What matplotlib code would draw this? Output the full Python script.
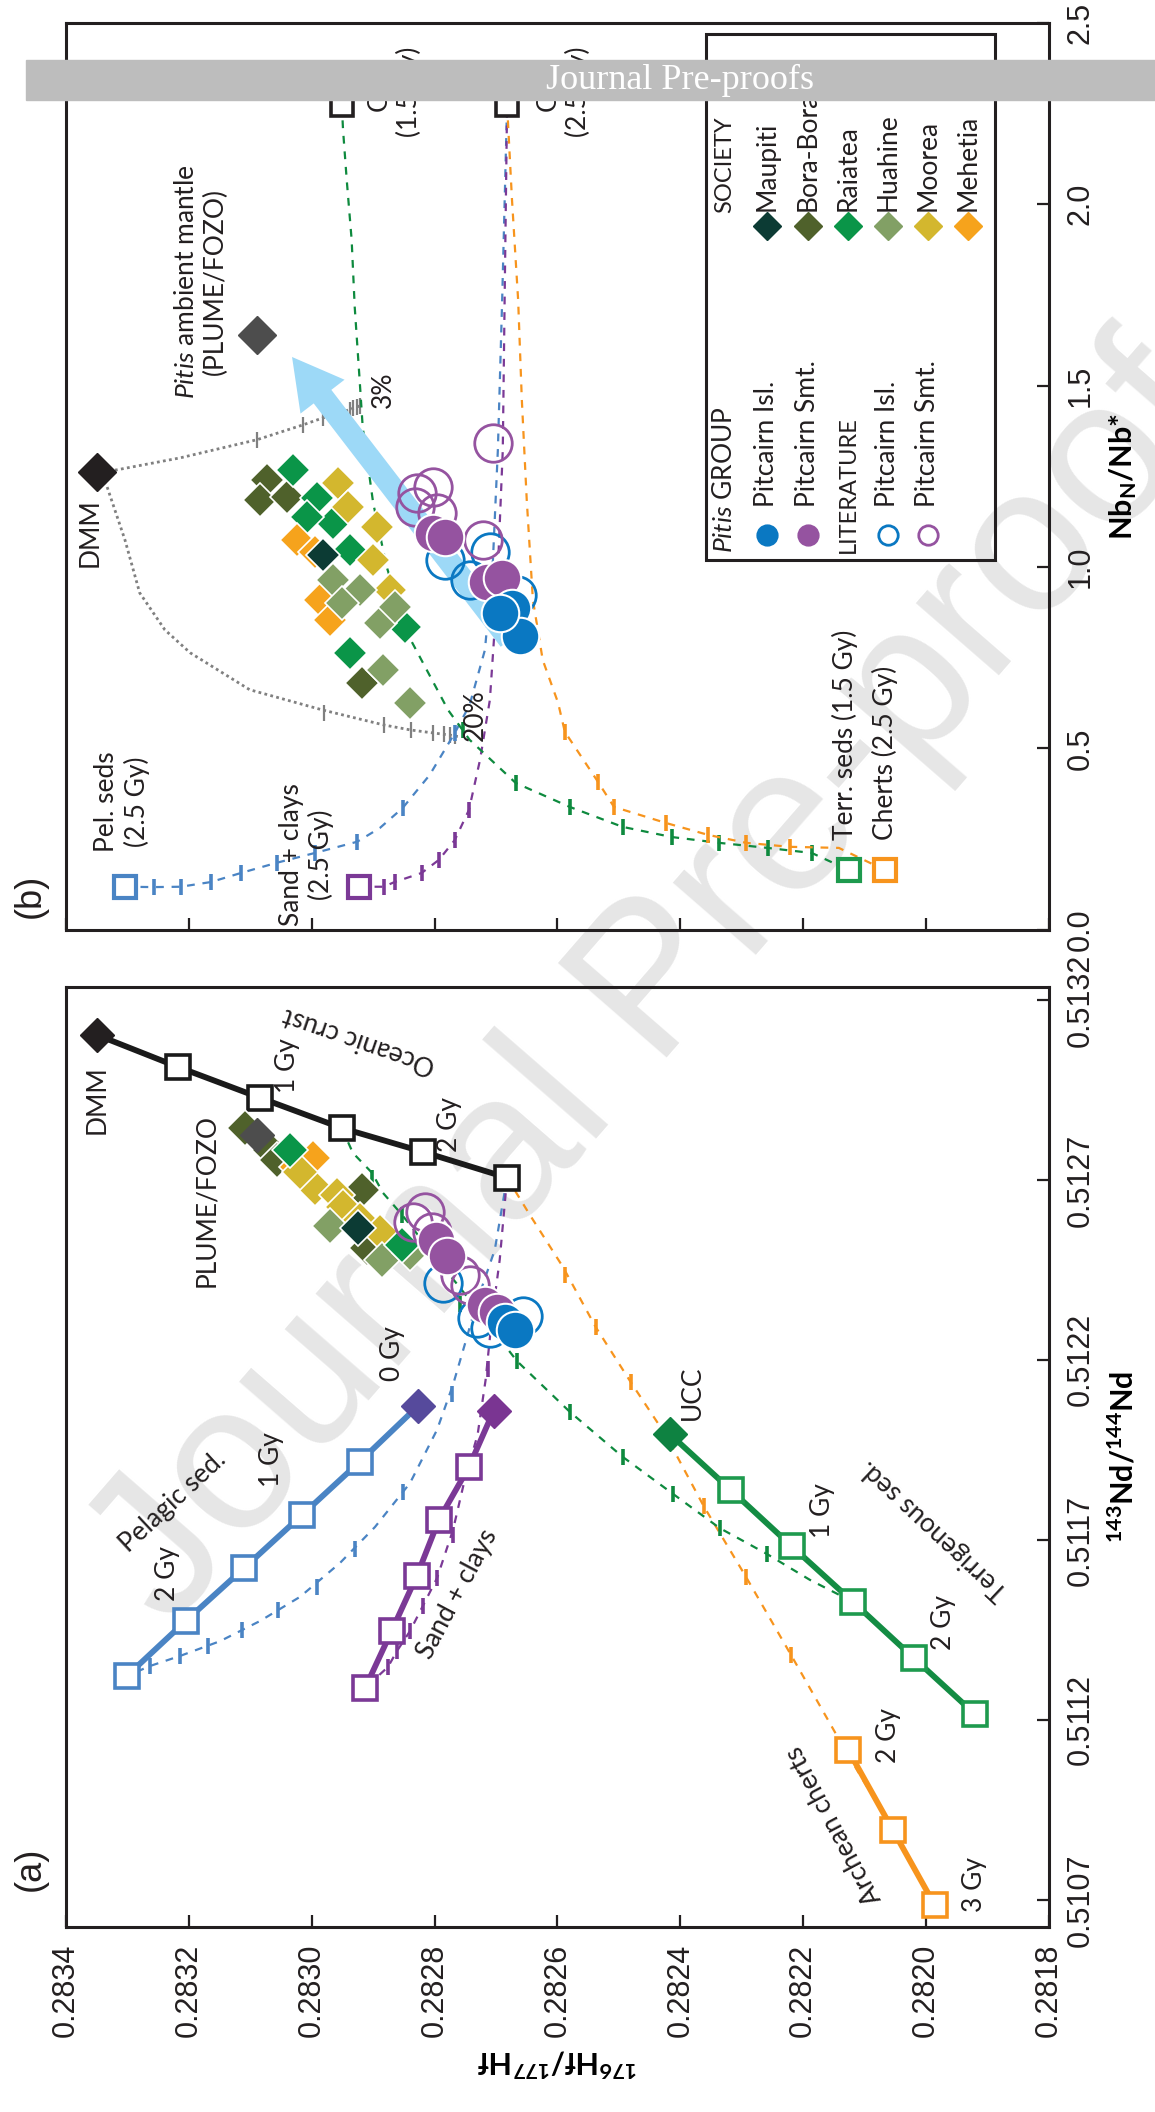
import matplotlib
matplotlib.use("Agg")
import matplotlib.pyplot as plt
from matplotlib.patches import Rectangle

plt.rcParams['font.family'] = ['Lato', 'DejaVu Sans']
plt.rcParams['mathtext.fontset'] = 'custom'
plt.rcParams['mathtext.rm'] = 'Lato'
plt.rcParams['mathtext.it'] = 'Lato:italic'
plt.rcParams['mathtext.bf'] = 'Lato:bold'

INK = '#231F20'

# axis ticks
hf_ticks = [0.2834, 0.2832, 0.2830, 0.2828, 0.2826, 0.2824, 0.2822, 0.2820, 0.2818]
nd_ticks = [0.5107, 0.5112, 0.5117, 0.5122, 0.5127, 0.5132]
nb_ticks = [0.0, 0.5, 1.0, 1.5, 2.0, 2.5]

# ---------------- panel (a): 176Hf/177Hf vs 143Nd/144Nd ----------------
# evolution paths, squares every 0.5 Gy (oldest first), present-day end-member apart
pel_hf = [0.283301, 0.283205, 0.283110, 0.283016, 0.282922]
pel_nd = [0.511322, 0.511475, 0.511622, 0.511769, 0.511917]
pel0_hf, pel0_nd = 0.282827, 0.512072

sand_hf = [0.282913, 0.282870, 0.282829, 0.282793, 0.282744]
sand_nd = [0.511289, 0.511447, 0.511600, 0.511756, 0.511903]
sand0_hf, sand0_nd = 0.282704, 0.512058

ucc_hf, ucc_nd = 0.282417, 0.511994
terr_hf = [0.282318, 0.282219, 0.282119, 0.282020, 0.281921]
terr_nd = [0.511839, 0.511683, 0.511528, 0.511372, 0.511217]

chert_hf = [0.282127, 0.282054, 0.281986]
chert_nd = [0.511117, 0.510894, 0.510686]

dmm_a_hf, dmm_a_nd = 0.283350, 0.513103
oc_hf = [0.283218, 0.283084, 0.282951, 0.282819, 0.282682]
oc_nd = [0.513014, 0.512928, 0.512844, 0.512778, 0.512706]
plume_a_hf, plume_a_nd = 0.283089, 0.512825

# mixing curves (a)
mix_blue_a_hf = [0.282682, 0.282702, 0.282730, 0.282751, 0.282770, 0.282796, 0.282840, 0.282897,
                 0.282954, 0.283019, 0.283084, 0.283149, 0.283214, 0.283263, 0.283301]
mix_blue_a_nd = [0.512706, 0.512506, 0.512367, 0.512242, 0.512131, 0.512006, 0.511858, 0.511736,
                 0.511636, 0.511542, 0.511475, 0.511419, 0.511378, 0.511350, 0.511322]
tick_blue_a_hf = [0.282772, 0.282852, 0.282930, 0.282992, 0.283055, 0.283114, 0.283169, 0.283214, 0.283263]
tick_blue_a_nd = [0.512106, 0.511833, 0.511675, 0.511570, 0.511506, 0.511450, 0.511406, 0.511378, 0.511350]

mix_purple_a_hf = [0.282682, 0.282694, 0.282707, 0.282717, 0.282730, 0.282751, 0.282770, 0.282796,
                   0.282819, 0.282840, 0.282861, 0.282876, 0.282913]
mix_purple_a_nd = [0.512706, 0.512478, 0.512311, 0.512144, 0.511992, 0.511867, 0.511728, 0.511594,
                   0.511517, 0.511447, 0.511392, 0.511347, 0.511289]
tick_purple_a_hf = [0.282713, 0.282770, 0.282796, 0.282819, 0.282840, 0.282861, 0.282876]
tick_purple_a_nd = [0.512175, 0.511714, 0.511594, 0.511517, 0.511447, 0.511392, 0.511347]

mix_orange_a_hf = [0.282682, 0.282645, 0.282591, 0.282538, 0.282481, 0.282424, 0.282362, 0.282293,
                   0.282220, 0.282132, 0.282054]
mix_orange_a_nd = [0.512706, 0.512603, 0.512458, 0.512292, 0.512139, 0.511992, 0.511794, 0.511597,
                   0.511381, 0.511117, 0.510894]
tick_orange_a_hf = [0.282588, 0.282538, 0.282481, 0.282424, 0.282362, 0.282293, 0.282220]
tick_orange_a_nd = [0.512436, 0.512292, 0.512139, 0.511983, 0.511794, 0.511597, 0.511381]

mix_green_a_hf = [0.282951, 0.282933, 0.282902, 0.282884, 0.282853, 0.282808, 0.282743, 0.282666,
                  0.282580, 0.282494, 0.282412, 0.282336, 0.282259, 0.282189, 0.282119]
mix_green_a_nd = [0.512844, 0.512775, 0.512720, 0.512664, 0.512603, 0.512506, 0.512367, 0.512197,
                  0.512056, 0.511931, 0.511828, 0.511733, 0.511661, 0.511589, 0.511528]
tick_green_a_hf = [0.282902, 0.282853, 0.282759, 0.282666, 0.282580, 0.282494, 0.282412, 0.282336, 0.282259]
tick_green_a_nd = [0.512706, 0.512603, 0.512356, 0.512197, 0.512056, 0.511931, 0.511828, 0.511733, 0.511661]

# Society islands (a)
maupiti_a = [(0.282925, 0.512567)]
bora_a = [(0.283109, 0.512844), (0.283068, 0.512783), (0.283057, 0.512756), (0.282918, 0.512672),
          (0.282910, 0.512511)]
raiatea_a = [(0.282853, 0.512519), (0.283035, 0.512783)]
huahine_a = [(0.282970, 0.512572), (0.282886, 0.512478), (0.282840, 0.512497)]
moorea_a = [(0.282995, 0.512678), (0.282959, 0.512658), (0.282949, 0.512625), (0.282922, 0.512589),
            (0.282889, 0.512556), (0.283019, 0.512722)]
mehetia_a = [(0.283024, 0.512736), (0.282998, 0.512761)]

# Pitcairn (a)
pit_isl_a = [(0.282686, 0.512306), (0.282669, 0.512283)]
pit_smt_a = [(0.282798, 0.512533), (0.282780, 0.512489), (0.282718, 0.512353), (0.282699, 0.512333)]
lit_isl_a = [(0.282787, 0.512414), (0.282731, 0.512317), (0.282656, 0.512322), (0.282710, 0.512289)]
lit_smt_a = [(0.282835, 0.512583), (0.282816, 0.512611), (0.282804, 0.512556), (0.282759, 0.512436),
             (0.282743, 0.512408)]

# ---------------- panel (b): 176Hf/177Hf vs Nb_N/Nb* ----------------
dmm_b = (0.283350, 1.262)
plume_b = (0.283089, 1.640)
oc_b_hf = [0.282951, 0.282682]
oc_b_nb = [2.274, 2.274]
pel_b = (0.283304, 0.119)
sand_b = (0.282923, 0.119)
terr_b = (0.282126, 0.165)
chert_b = (0.282067, 0.165)

mix_blue_b_hf = [0.283304, 0.283257, 0.283213, 0.283164, 0.283115, 0.283057, 0.282995, 0.282926, 0.282889,
                 0.282852, 0.282808, 0.282767, 0.282743, 0.282718, 0.282705, 0.282697, 0.282690, 0.282682]
mix_blue_b_nb = [0.119, 0.118, 0.119, 0.132, 0.157, 0.185, 0.212, 0.243, 0.281,
                 0.336, 0.427, 0.543, 0.620, 0.772, 1.020, 1.323, 1.736, 2.274]
tick_blue_b_hf = [0.283257, 0.283213, 0.283164, 0.283115, 0.283057, 0.282995, 0.282926, 0.282852, 0.282767]
tick_blue_b_nb = [0.118, 0.119, 0.132, 0.157, 0.185, 0.212, 0.243, 0.336, 0.543]

mix_purple_b_hf = [0.282923, 0.282883, 0.282865, 0.282821, 0.282793, 0.282767, 0.282744, 0.282726,
                   0.282710, 0.282699, 0.282689, 0.282686, 0.282682]
mix_purple_b_nb = [0.119, 0.119, 0.132, 0.157, 0.193, 0.248, 0.331, 0.469, 0.634, 0.910, 1.323, 1.736, 2.274]
tick_purple_b_hf = [0.282883, 0.282865, 0.282821, 0.282793, 0.282767, 0.282744]
tick_purple_b_nb = [0.119, 0.132, 0.157, 0.193, 0.248, 0.331]

mix_green_b_hf = [0.282951, 0.282949, 0.282943, 0.282935, 0.282930, 0.282922, 0.282917, 0.282900, 0.282878,
                  0.282845, 0.282778, 0.282743, 0.282668, 0.282580, 0.282494, 0.282414, 0.282337, 0.282258,
                  0.282186, 0.282126]
mix_green_b_nb = [2.274, 2.205, 2.067, 1.902, 1.717, 1.516, 1.386, 1.177, 1.001,
                  0.819, 0.606, 0.524, 0.405, 0.339, 0.284, 0.256, 0.240, 0.226, 0.212, 0.165]
tick_green_b_hf = [0.282754, 0.282668, 0.282580, 0.282494, 0.282414, 0.282337, 0.282258, 0.282186]
tick_green_b_nb = [0.551, 0.405, 0.339, 0.284, 0.256, 0.240, 0.226, 0.212]

mix_orange_b_hf = [0.282682, 0.282674, 0.282664, 0.282658, 0.282650, 0.282640, 0.282624, 0.282599, 0.282588,
                   0.282534, 0.282508, 0.282466, 0.282424, 0.282355, 0.282293, 0.282222, 0.282142, 0.282067]
mix_orange_b_nb = [2.274, 2.012, 1.736, 1.461, 1.185, 0.910, 0.744, 0.626, 0.546,
                   0.408, 0.339, 0.317, 0.295, 0.262, 0.240, 0.229, 0.226, 0.165]
tick_orange_b_hf = [0.282588, 0.282534, 0.282508, 0.282424, 0.282355, 0.282293, 0.282222]
tick_orange_b_nb = [0.546, 0.408, 0.339, 0.295, 0.262, 0.240, 0.229]

# DMM melting curves (grey dotted)
melt_a_hf = [0.283350, 0.283317, 0.283214, 0.283089, 0.283014, 0.282982, 0.282954, 0.282925, 0.282922]
melt_a_nb = [1.262, 1.268, 1.301, 1.351, 1.392, 1.411, 1.425, 1.442, 1.444]
melt_b_hf = [0.283350, 0.283333, 0.283304, 0.283280, 0.283239, 0.283198, 0.283101, 0.282982, 0.282883,
             0.282839, 0.282803, 0.282775, 0.282759]
melt_b_nb = [1.262, 1.221, 1.075, 0.929, 0.827, 0.764, 0.662, 0.606, 0.565, 0.551, 0.543, 0.537, 0.532]
tick_melt_a_hf = [0.283089, 0.283014, 0.282982, 0.282938, 0.282933, 0.282926, 0.282922]
tick_melt_a_nb = [1.351, 1.392, 1.411, 1.433, 1.439, 1.442, 1.444]
tick_melt_b_hf = [0.282980, 0.282883, 0.282839, 0.282803, 0.282785, 0.282775, 0.282767]
tick_melt_b_nb = [0.598, 0.565, 0.551, 0.543, 0.540, 0.537, 0.535]

# Society islands (b)
maupiti_b = [(0.282982, 1.034)]
bora_b = [(0.283073, 1.240), (0.283084, 1.185), (0.283040, 1.193), (0.282918, 0.681)]
raiatea_b = [(0.283031, 1.268), (0.282992, 1.191), (0.282966, 1.122), (0.282938, 1.047),
             (0.282938, 0.764), (0.282848, 0.835), (0.283008, 1.138)]
huahine_b = [(0.282966, 0.965), (0.282922, 0.937), (0.282951, 0.901), (0.282889, 0.846),
             (0.282865, 0.890), (0.282884, 0.717), (0.282840, 0.626)]
moorea_b = [(0.282957, 1.232), (0.282941, 1.166), (0.282894, 1.111), (0.282900, 1.020), (0.282873, 0.937)]
mehetia_b = [(0.283024, 1.075), (0.282995, 1.042), (0.282987, 0.910), (0.282970, 0.854)]

# Pitcairn (b)
pit_isl_b = [(0.282674, 0.888), (0.282661, 0.810), (0.282694, 0.874)]
pit_smt_b = [(0.282803, 1.094), (0.282783, 1.083), (0.282715, 0.959), (0.282690, 0.970)]
lit_isl_b = [(0.282783, 1.020), (0.282743, 0.965), (0.282710, 1.042), (0.282666, 0.923)]
lit_smt_b = [(0.282705, 1.342), (0.282829, 1.205), (0.282803, 1.221), (0.282832, 1.166),
             (0.282796, 1.149), (0.282721, 1.075)]

# arrow (tail -> head)
arrow_tail = (0.282678, 0.799)
arrow_head = (0.283032, 1.579)

# colours
C_PEL, C_PEL0 = '#4A84C4', '#564A9C'
C_SAND, C_SAND0 = '#7B3996', '#7A3592'
C_TERR, C_UCC, C_TERR_SQ = '#138C43', '#0E8241', '#1E9A4E'
C_CHERT = '#F7941D'
C_MIXG = '#0E8A3E'
C_GREY = '#808080'
island_cols = {'Maupiti': '#0C3B34', 'Bora-Bora': '#4F612B', 'Raiatea': '#0A9548',
               'Huahine': '#82A065', 'Moorea': '#D3B72E', 'Mehetia': '#F6A31C'}
C_ISL, C_SMT = '#0A78C2', '#9553A0'
C_ARROW = '#9DD9F7'

fig = plt.figure(figsize=(11.55, 21.12), dpi=100)
ax_b = fig.add_axes([0.0571, 0.5597, 0.8511, 0.4295])
ax_a = fig.add_axes([0.0571, 0.0876, 0.8511, 0.4451])


def style(ax):
    ax.set_facecolor('none')
    for s in ax.spines.values():
        s.set_linewidth(2.2)
        s.set_color(INK)
    ax.tick_params(direction='in', length=9, width=1.6, color=INK, labelsize=22, pad=12,
                   labelcolor=INK)
    ax.set_xlim(0.2834, 0.2818)
    ax.set_xticks(hf_ticks)
    ax.yaxis.tick_right()
    ax.yaxis.set_label_position('right')


def mix(ax, xs, ys, tx, ty, col, lw=1.6):
    ax.plot(xs, ys, ls=(0, (3.5, 3.5)), color=col, lw=lw, zorder=2)
    ax.plot(tx, ty, ls='none', marker='|', ms=12, mew=2.6, color=col, zorder=2)


def path(ax, xs, ys, end, col, endcol, sqcol=None, ms=17):
    sqcol = sqcol or col
    ax.plot(xs + [end[0]], ys + [end[1]], '-', color=col, lw=4.2, zorder=3)
    ax.plot(xs, ys, ls='none', marker='s', ms=ms, mfc='white', mec=sqcol, mew=2.6, zorder=4)
    ax.plot([end[0]], [end[1]], ls='none', marker='D', ms=17, mfc=endcol, mec=endcol, zorder=5)


def islands(ax, groups, ms=16):
    for name, pts in groups:
        ax.plot([p[0] for p in pts], [p[1] for p in pts], ls='none', marker='D', ms=ms,
                mfc=island_cols[name], mec='white', mew=1.2, zorder=6)


def pitcairn(ax, isl, smt, lisl, lsmt, ms=27):
    for pts, col in ((lisl, C_ISL), (lsmt, C_SMT)):
        ax.plot([p[0] for p in pts], [p[1] for p in pts], ls='none', marker='o', ms=ms,
                mfc='none', mec=col, mew=2.0, zorder=7)
    for pts, col in ((smt, C_SMT), (isl, C_ISL)):
        ax.plot([p[0] for p in pts], [p[1] for p in pts], ls='none', marker='o', ms=ms,
                mfc=col, mec='white', mew=1.5, zorder=8)


def label(ax, x, y, s, rot=90, size=19, **kw):
    kw.setdefault('ha', 'center')
    kw.setdefault('va', 'center')
    ax.text(x, y, s, rotation=rot, fontsize=size, color=INK, zorder=9, **kw)


# ---------------- draw panel (a) ----------------
style(ax_a)
ax_a.set_ylim(0.510625, 0.513236)
ax_a.set_xticklabels([f'{v:.4f}' for v in hf_ticks], rotation=90, family='Liberation Sans')
ax_a.set_yticks(nd_ticks)
ax_a.set_yticklabels([f'{v:.4f}' for v in nd_ticks], rotation=90, va='center',
                     family='Liberation Sans')
ax_a.set_xlabel(r'$\mathbf{{}^{176}Hf/{}^{177}Hf}$', fontsize=22, rotation=180, labelpad=6)
ax_a.set_ylabel(r'$\mathbf{{}^{143}Nd/{}^{144}Nd}$', fontsize=22, rotation=90, labelpad=8)

mix(ax_a, mix_blue_a_hf, mix_blue_a_nd, tick_blue_a_hf, tick_blue_a_nd, C_PEL)
mix(ax_a, mix_purple_a_hf, mix_purple_a_nd, tick_purple_a_hf, tick_purple_a_nd, C_SAND)
mix(ax_a, mix_orange_a_hf, mix_orange_a_nd, tick_orange_a_hf, tick_orange_a_nd, C_CHERT)
mix(ax_a, mix_green_a_hf, mix_green_a_nd, tick_green_a_hf, tick_green_a_nd, C_MIXG)

path(ax_a, pel_hf, pel_nd, (pel0_hf, pel0_nd), C_PEL, C_PEL0)
path(ax_a, sand_hf, sand_nd, (sand0_hf, sand0_nd), C_SAND, C_SAND0)
path(ax_a, terr_hf[::-1], terr_nd[::-1], (ucc_hf, ucc_nd), C_TERR, C_UCC, C_TERR_SQ)
ax_a.plot(chert_hf, chert_nd, '-', color=C_CHERT, lw=4.2, zorder=3)
ax_a.plot(chert_hf, chert_nd, ls='none', marker='s', ms=17, mfc='white', mec=C_CHERT, mew=2.6, zorder=4)
path(ax_a, oc_hf[::-1], oc_nd[::-1], (dmm_a_hf, dmm_a_nd), '#1A1A1A', INK)
ax_a.plot([plume_a_hf], [plume_a_nd], ls='none', marker='D', ms=17, color='#4D4D4D', zorder=6.5)

islands(ax_a, [('Bora-Bora', bora_a), ('Mehetia', mehetia_a), ('Moorea', moorea_a),
               ('Huahine', huahine_a), ('Raiatea', raiatea_a), ('Maupiti', maupiti_a)], ms=18)
pitcairn(ax_a, pit_isl_a, pit_smt_a, lit_isl_a, lit_smt_a)

label(ax_a, 0.283226, 0.511806, 'Pelagic sed.', rot=43)
label(ax_a, 0.283234, 0.511608, '2 Gy')
label(ax_a, 0.283065, 0.511922, '1 Gy')
label(ax_a, 0.282868, 0.512219, '0 Gy')
label(ax_a, 0.282762, 0.511550, 'Sand + clays', rot=62)
label(ax_a, 0.282380, 0.512108, 'UCC')
label(ax_a, 0.282168, 0.511783, '1 Gy')
label(ax_a, 0.281971, 0.511472, '2 Gy')
label(ax_a, 0.281986, 0.511728, 'Terrigenous sed.', rot=137)
label(ax_a, 0.282062, 0.511158, '2 Gy')
label(ax_a, 0.281921, 0.510742, '3 Gy')
label(ax_a, 0.282149, 0.510908, 'Archean cherts', rot=118)
label(ax_a, 0.283350, 0.512922, 'DMM')
label(ax_a, 0.283040, 0.513019, '1 Gy')
label(ax_a, 0.282775, 0.512853, '2 Gy')
label(ax_a, 0.282922, 0.513089, 'Oceanic crust', rot=161)
label(ax_a, 0.283171, 0.512644, 'PLUME/FOZO')

# ---------------- draw panel (b) ----------------
style(ax_b)
ax_b.set_ylim(0, 2.5)
ax_b.set_xticklabels([])
ax_b.set_yticks(nb_ticks)
ax_b.set_yticklabels([f'{v:.1f}' for v in nb_ticks], rotation=90, va='center',
                     family='Liberation Sans')
ax_b.set_ylabel(r'$\mathbf{Nb_N/Nb}$*', fontsize=22, fontweight='bold', rotation=90, labelpad=8)

ax_b.plot(melt_a_hf, melt_a_nb, ls=(0, (1, 1.2)), color=C_GREY, lw=2, zorder=2)
ax_b.plot(melt_b_hf, melt_b_nb, ls=(0, (1, 1.2)), color=C_GREY, lw=2, zorder=2)
ax_b.plot(tick_melt_a_hf, tick_melt_a_nb, ls='none', marker='|', ms=12, mew=1.6, color=C_GREY, zorder=2)
ax_b.plot(tick_melt_b_hf, tick_melt_b_nb, ls='none', marker='|', ms=12, mew=1.6, color=C_GREY, zorder=2)

mix(ax_b, mix_blue_b_hf, mix_blue_b_nb, tick_blue_b_hf, tick_blue_b_nb, C_PEL)
mix(ax_b, mix_purple_b_hf, mix_purple_b_nb, tick_purple_b_hf, tick_purple_b_nb, C_SAND)
mix(ax_b, mix_green_b_hf, mix_green_b_nb, tick_green_b_hf, tick_green_b_nb, C_MIXG)
mix(ax_b, mix_orange_b_hf, mix_orange_b_nb, tick_orange_b_hf, tick_orange_b_nb, C_CHERT)

ax_b.annotate('', xy=arrow_head, xytext=arrow_tail, zorder=3,
              arrowprops=dict(arrowstyle='simple,head_width=2.0,head_length=1.8,tail_width=0.8',
                              mutation_scale=20, color=C_ARROW, lw=0, shrinkA=0, shrinkB=0))

for (x, y), col in ((pel_b, C_PEL), (sand_b, C_SAND), (terr_b, C_TERR_SQ), (chert_b, C_CHERT)):
    ax_b.plot([x], [y], ls='none', marker='s', ms=16, mfc='white', mec=col, mew=3, zorder=4)
ax_b.plot(oc_b_hf, oc_b_nb, ls='none', marker='s', ms=16, mfc='white', mec=INK, mew=2.6, zorder=4)
ax_b.plot([dmm_b[0]], [dmm_b[1]], ls='none', marker='D', ms=19, color=INK, zorder=5)
ax_b.plot([plume_b[0]], [plume_b[1]], ls='none', marker='D', ms=19, color='#4D4D4D', zorder=5)

islands(ax_b, [('Bora-Bora', bora_b), ('Raiatea', raiatea_b), ('Moorea', moorea_b),
               ('Mehetia', mehetia_b), ('Huahine', huahine_b), ('Maupiti', maupiti_b)], ms=17)
pitcairn(ax_b, pit_isl_b, pit_smt_b, lit_isl_b, lit_smt_b)

label(ax_b, 0.283361, 1.094, 'DMM')
label(ax_b, 0.283180, 1.786, r'$\mathit{Pitis}$ ambient mantle' + '\n(PLUME/FOZO)', multialignment='center')
label(ax_b, 0.282884, 1.488, '3%')
label(ax_b, 0.282734, 0.593, '20%')
label(ax_b, 0.283309, 0.353, 'Pel. seds\n(2.5 Gy)', multialignment='center')
label(ax_b, 0.283008, 0.207, 'Sand + clays\n(2.5 Gy)', multialignment='center')
label(ax_b, 0.282132, 0.248, 'Terr. seds (1.5 Gy)', va='bottom')
label(ax_b, 0.282067, 0.248, 'Cherts (2.5 Gy)', va='bottom')
label(ax_b, 0.282865, 2.310, 'OC\n(1.5 Gy)', multialignment='center')
label(ax_b, 0.282591, 2.310, 'OC\n(2.5 Gy)', multialignment='center')

# legend (drawn by hand, rotated like the rest of the figure)
T = ax_b.transAxes
ax_b.add_patch(Rectangle((0.651, 0.408), 0.294, 0.580, transform=T, fill=False, lw=2.2,
                         ec=INK, zorder=9))
row_x = [0.7131, 0.7548, 0.7955, 0.8362, 0.8769, 0.9176]
head_x = 0.6704
ax_b.text(head_x, 0.4157, r'$\mathit{Pitis}$ GROUP', transform=T, rotation=90, ha='center',
          va='bottom', fontsize=19, color=INK, zorder=10)
ax_b.text(row_x[2], 0.4157, 'LITERATURE', transform=T, rotation=90, ha='center',
          va='bottom', fontsize=17, color=INK, zorder=10)
pitis_entries = [(row_x[0], 'Pitcairn Isl.', C_ISL, True), (row_x[1], 'Pitcairn Smt.', C_SMT, True),
                 (row_x[3], 'Pitcairn Isl.', C_ISL, False), (row_x[4], 'Pitcairn Smt.', C_SMT, False)]
for x, name, col, filled in pitis_entries:
    ax_b.plot([x], [0.4355], transform=T, marker='o', ms=14, mfc=col if filled else 'none',
              mec=col, mew=2, ls='none', zorder=10, clip_on=False)
    ax_b.text(x, 0.466, name, transform=T, rotation=90, ha='center', va='bottom',
              fontsize=19, color=INK, zorder=10)
ax_b.text(head_x, 0.7905, 'SOCIETY', transform=T, rotation=90, ha='center', va='bottom',
          fontsize=17, color=INK, zorder=10)
for x, name in zip(row_x, island_cols):
    ax_b.plot([x], [0.776], transform=T, marker='D', ms=14, color=island_cols[name], ls='none',
              zorder=10, clip_on=False)
    ax_b.text(x, 0.7927, name, transform=T, rotation=90, ha='center', va='bottom',
              fontsize=19, color=INK, zorder=10)

# panel letters
fig.text(0.026, 0.115, '(a)', rotation=90, fontsize=26, family='Liberation Sans',
         ha='center', va='center', color=INK)
fig.text(0.026, 0.576, '(b)', rotation=90, fontsize=26, family='Liberation Sans',
         ha='center', va='center', color=INK)

# watermark (under the data) and pre-proof banner (on top)
fig.text(0.569, 0.533, 'Journal Pre-proof', fontsize=150, color='#E6E6E6', rotation=49,
         family='Liberation Sans', ha='center', va='center', zorder=-1)
fig.add_artist(Rectangle((0.0225, 0.9527), 0.9775, 0.0189, transform=fig.transFigure,
                         color='#BDBDBD', zorder=20))
fig.text(0.589, 0.9621, 'Journal Pre-proofs', color='white', fontsize=26,
         family='Liberation Serif', ha='center', va='center', zorder=21)

fig.savefig('out.png', dpi=100)
